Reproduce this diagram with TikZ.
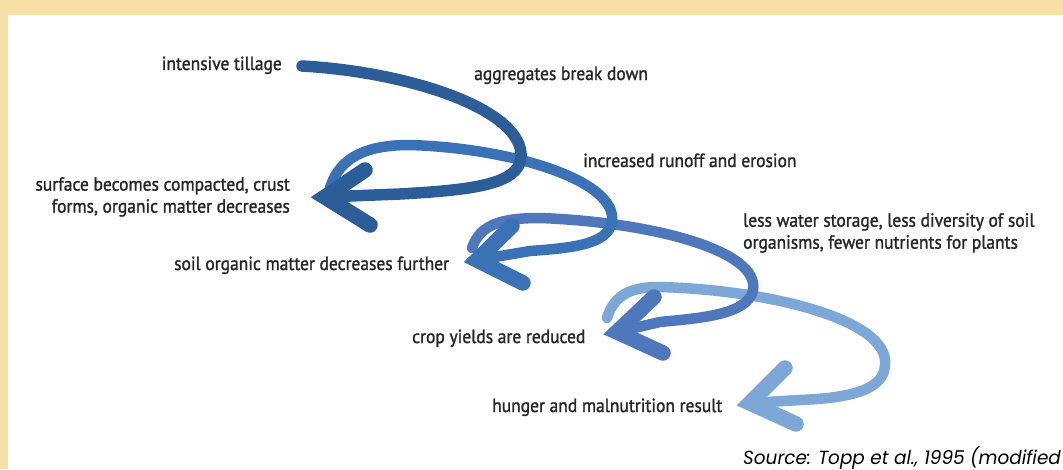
\documentclass[tikz,border=0pt]{standalone}
\usepackage{fontspec}
\newfontfamily\lblfont[FakeStretch=0.92,FakeBold=1.3]{PT Sans}
\newfontfamily\srcfont[FakeStretch=0.97]{Poppins}
\definecolor{frame}{HTML}{F6E0A6}
\definecolor{txt}{HTML}{262626}
\definecolor{cA}{HTML}{2D5D98}
\definecolor{cB}{HTML}{3A72B5}
\definecolor{cC}{HTML}{4F78BC}
\definecolor{cD}{HTML}{7DA7D6}
\begin{document}
\begin{tikzpicture}[x=1pt,y=-1pt,
  lbl/.style={font=\lblfont\fontsize{19}{22}\selectfont, text=txt, inner sep=0pt},
  shaft/.style={line width=10.5pt, line cap=round, line join=round},
  head/.style={line width=15.5pt, line cap=round, line join=miter, miter limit=10}]
% page, with its frame band on top and left
\useasboundingbox (0,0) rectangle (1063,469);
\clip (0,0) rectangle (1063,469);
\fill[white] (0,0) rectangle (1063,469);
\fill[frame] (0,0) rectangle (1063,15);
\fill[frame] (0,0) rectangle (8,469);

% labels
\node[lbl, anchor=base east] (tillage) at (282,70) {intensive tillage};
\node[lbl, anchor=base west] (aggr) at (474,80) {aggregates break down};
\node[lbl, anchor=north east, align=right] (crust) at (290,177)
  {surface becomes compacted, crust\\forms, organic matter decreases};
\node[lbl, anchor=base west] (runoff) at (583,167) {increased runoff and erosion};
\node[lbl, anchor=north west, align=left] (water) at (743,213)
  {less water storage, less diversity of soil\\organisms, fewer nutrients for plants};
\node[lbl, anchor=base west] (som) at (174,270) {soil organic matter decreases further};
\node[lbl, anchor=base west] (crop) at (412,343) {crop yields are reduced};
\node[lbl, anchor=base west] (hunger) at (492,412) {hunger and malnutrition result};
\node[font=\srcfont\itshape\fontsize{19}{21}\selectfont, text=black, inner sep=0pt,
  anchor=base west] (src) at (743,464) {Source: Topp et al., 1995 (modified};

% arrow ends
\coordinate (s1) at (302,66);  \coordinate (t1) at (325,197);
\coordinate (s2) at (330,188); \coordinate (t2) at (477,260);
\coordinate (s3) at (472,248); \coordinate (t3) at (617,332);
\coordinate (s4) at (607,318); \coordinate (t4) at (750,403);

% fourth arrow (lightest), drawn first so the others lie on top
\draw[shaft, cD] (s4) .. controls (615,292) and (635,287) .. (660,287)
  .. controls (770,290) and (890,320) .. (885,365)
  .. controls (884,390) and (850,398) .. (800,400) -- (t4);
\draw[head, cD] (785,368) -- (t4) -- (796,424);

% third arrow
\draw[shaft, cC] (s3) .. controls (480,225) and (500,218) .. (540,218)
  .. controls (650,222) and (760,250) .. (753,290)
  .. controls (748,315) and (700,318) .. (660,322) -- (t3);
\draw[head, cC] (654,297) -- (t3) -- (663,353);

% second arrow
\draw[shaft, cB] (s2) .. controls (340,155) and (370,145) .. (410,145)
  .. controls (510,148) and (618,180) .. (612,222)
  .. controls (608,245) and (570,248) .. (530,251) -- (t2);
\draw[head, cB] (512,226) -- (t2) -- (523,283);

% first arrow (darkest)
\draw[shaft, cA, line width=11.5pt] (s1) .. controls (410,72) and (525,110) .. (521,158)
  .. controls (518,185) and (470,190) .. (400,194) -- (t1);
\draw[head, cA] (365,170) -- (t1) -- (370,225);
\end{tikzpicture}
\end{document}
